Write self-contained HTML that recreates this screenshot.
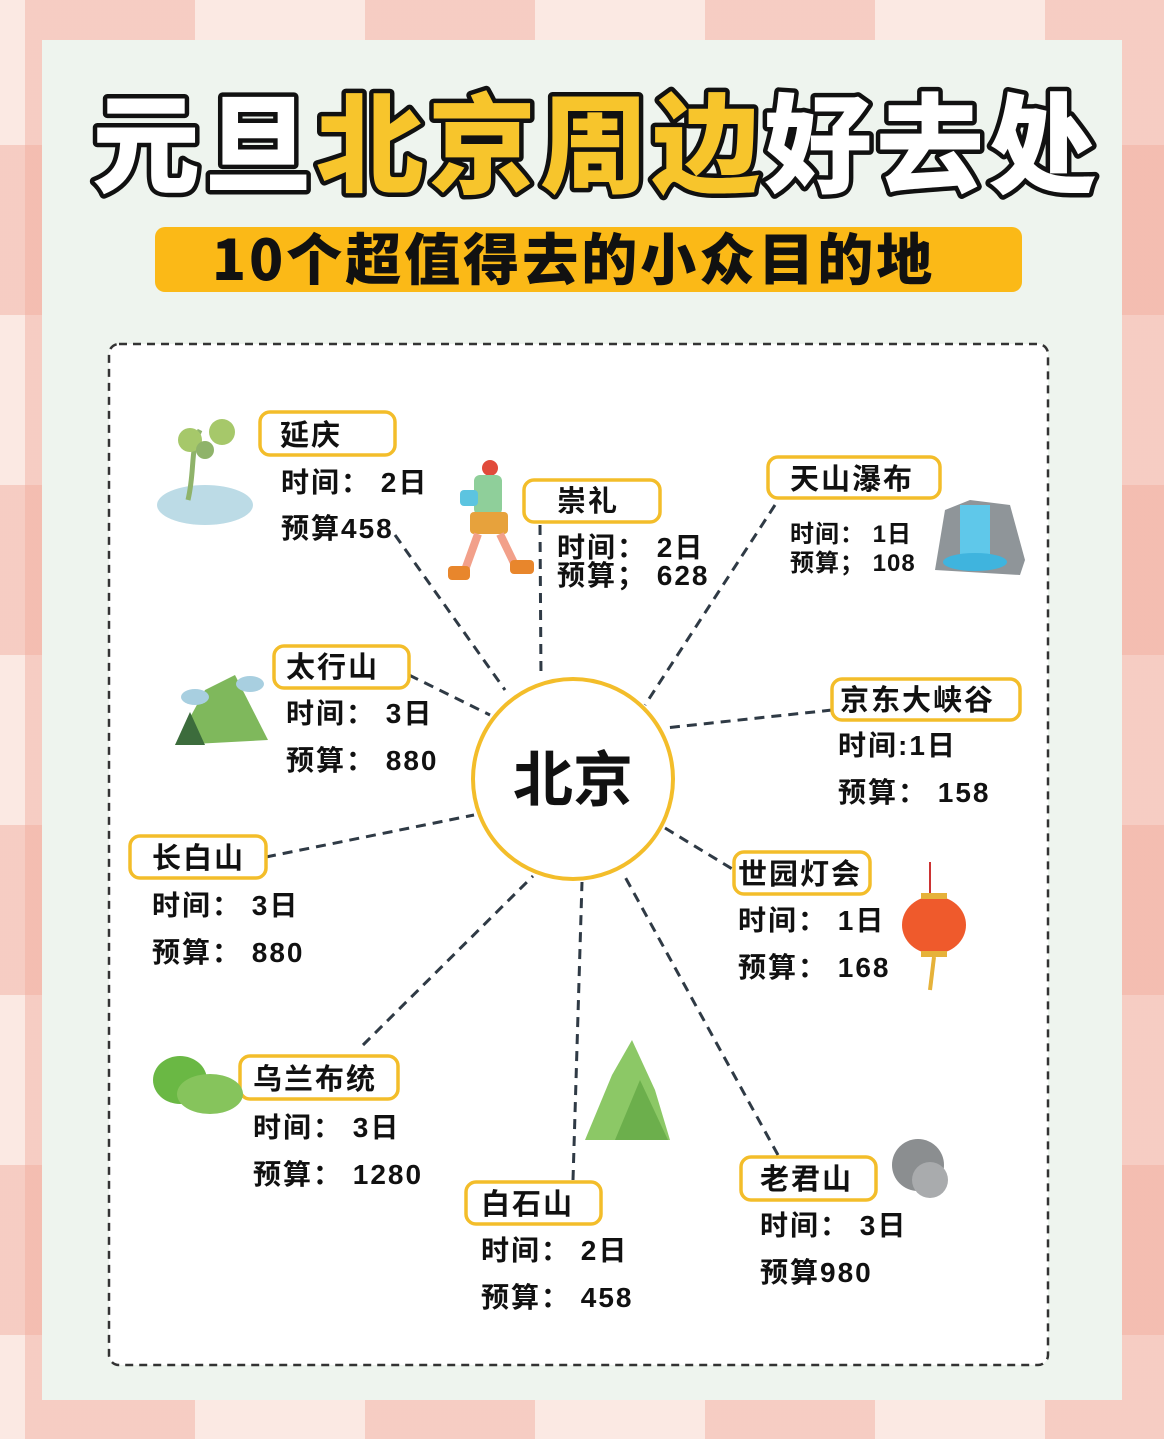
<!DOCTYPE html>
<html><head><meta charset="utf-8"><style>
html,body{margin:0;padding:0}
body{width:1164px;height:1439px;overflow:hidden;position:relative;
background-color:#fbe9e3;
background-image:
linear-gradient(90deg, rgba(240,170,155,.45) 50%, transparent 50%),
linear-gradient(0deg, rgba(240,170,155,.45) 50%, transparent 50%);
background-size:340px 340px,340px 340px;
background-position:25px 0,0 -25px;}
svg{position:absolute;left:0;top:0}
text{font-family:"Liberation Sans","Noto Sans CJK SC",sans-serif;font-weight:bold}
</style></head><body>
<svg width="1164" height="1439" viewBox="0 0 1164 1439">
<rect x="42" y="40" width="1080" height="1360" fill="#eef4ee"/>
<rect x="109" y="344" width="939" height="1021" rx="10" fill="#fff" stroke="#333" stroke-width="2.5" stroke-dasharray="8 6"/>
<!-- title -->
<text x="92" y="184" font-size="108" letter-spacing="4" style="font-family:'Noto Sans CJK SC',sans-serif;font-weight:900;fill:#fff;stroke:#111;stroke-width:9;stroke-linejoin:round;paint-order:stroke">元旦<tspan style="fill:#f7c52c">北京周边</tspan>好去处</text>
<rect x="155" y="227" width="867" height="65" rx="10" fill="#fbb917"/>
<text x="212" y="280" font-size="56" letter-spacing="3" style="font-family:'Noto Sans CJK SC',sans-serif;font-weight:900;fill:#111">10个超值得去的小众目的地</text>
<!-- connectors -->
<g stroke="#2f3a45" stroke-width="3" stroke-dasharray="10 7" fill="none">
<line x1="395" y1="535" x2="505" y2="690"/>
<line x1="540" y1="525" x2="541" y2="678"/>
<line x1="775" y1="505" x2="645" y2="705"/>
<line x1="409" y1="675" x2="490" y2="715"/>
<line x1="832" y1="710" x2="665" y2="728"/>
<line x1="266" y1="857" x2="474" y2="815"/>
<line x1="665" y1="828" x2="734" y2="870"/>
<line x1="363" y1="1045" x2="533" y2="876"/>
<line x1="573" y1="1180" x2="582" y2="882"/>
<line x1="778" y1="1155" x2="624" y2="875"/>
</g>
<circle cx="573" cy="779" r="100" fill="#fff" stroke="#f3bd2a" stroke-width="4"/>
<text x="573" y="801" font-size="60" text-anchor="middle" style="fill:#111">北京</text>
<!-- boxes -->
<g fill="#fff" stroke="#f3bd2a" stroke-width="3.5">
<rect x="260" y="412" width="135" height="43" rx="10"/>
<rect x="524" y="480" width="136" height="42" rx="10"/>
<rect x="768" y="457" width="172" height="41" rx="10"/>
<rect x="274" y="646" width="135" height="42" rx="10"/>
<rect x="832" y="679" width="188" height="41" rx="10"/>
<rect x="130" y="836" width="136" height="42" rx="10"/>
<rect x="734" y="852" width="136" height="42" rx="10"/>
<rect x="240" y="1056" width="158" height="43" rx="10"/>
<rect x="466" y="1182" width="135" height="42" rx="10"/>
<rect x="741" y="1157" width="135" height="43" rx="10"/>
</g>
<g font-size="29" style="fill:#111" letter-spacing="2">
<text x="280" y="445">延庆</text>
<text x="557" y="511">崇礼</text>
<text x="790" y="489">天山瀑布</text>
<text x="286" y="677">太行山</text>
<text x="840" y="710">京东大峡谷</text>
<text x="152" y="868">长白山</text>
<text x="738" y="884">世园灯会</text>
<text x="253" y="1089">乌兰布统</text>
<text x="481" y="1214">白石山</text>
<text x="760" y="1189">老君山</text>
</g>
<g font-size="28" style="fill:#111" letter-spacing="2">
<text x="281" y="492">时间：  2日</text><text x="281" y="538">预算458</text>
<text x="557" y="557">时间：  2日</text><text x="557" y="585">预算；  628</text>
<text x="838" y="755">时间:1日</text><text x="838" y="802">预算：  158</text>
<text x="286" y="723">时间：  3日</text><text x="286" y="770">预算：  880</text>
<text x="152" y="915">时间：  3日</text><text x="152" y="962">预算：  880</text>
<text x="738" y="930">时间：  1日</text><text x="738" y="977">预算：  168</text>
<text x="253" y="1137">时间：  3日</text><text x="253" y="1184">预算：  1280</text>
<text x="481" y="1260">时间：  2日</text><text x="481" y="1307">预算：  458</text>
<text x="760" y="1235">时间：  3日</text><text x="760" y="1282">预算980</text>
</g>
<g font-size="24" style="fill:#111" letter-spacing="1">
<text x="790" y="542">时间：  1日</text><text x="790" y="571">预算；  108</text>
</g>
<!-- illustrations -->
<g>
<ellipse cx="205" cy="505" rx="48" ry="20" fill="#bcdbe6"/>
<path d="M188 500 C195 470 190 450 200 430" stroke="#8fb36a" stroke-width="5" fill="none"/>
<circle cx="190" cy="440" r="12" fill="#a6c86a"/><circle cx="222" cy="432" r="13" fill="#a6c86a"/><circle cx="205" cy="450" r="9" fill="#8fb36a"/>
<circle cx="490" cy="468" r="8" fill="#e14b3b"/>
<rect x="474" y="475" width="28" height="40" rx="6" fill="#8fcf9a"/>
<rect x="460" y="490" width="18" height="16" rx="4" fill="#5cc4e0"/>
<rect x="470" y="512" width="38" height="22" rx="4" fill="#e7a23c"/>
<path d="M478 534 L465 570 M500 534 L515 565" stroke="#f2a08a" stroke-width="8"/>
<rect x="448" y="566" width="22" height="14" rx="4" fill="#e8862c"/><rect x="510" y="560" width="24" height="14" rx="4" fill="#e8862c"/>
<path d="M935 570 L945 510 L970 500 L1010 505 L1025 560 L1020 575 Z" fill="#8f9599"/>
<rect x="960" y="505" width="30" height="50" fill="#5fc8ea"/>
<ellipse cx="975" cy="562" rx="32" ry="9" fill="#3fb4de"/>
<path d="M175 745 L205 690 L235 675 L268 740 Z" fill="#7fb85c"/>
<path d="M175 745 L190 712 L205 745 Z" fill="#3c6c3c"/>
<ellipse cx="195" cy="697" rx="14" ry="8" fill="#a8cfe0"/><ellipse cx="250" cy="684" rx="14" ry="8" fill="#a8cfe0"/>
<ellipse cx="180" cy="1080" rx="27" ry="24" fill="#6ab844"/>
<ellipse cx="210" cy="1094" rx="33" ry="20" fill="#86c45c"/>
<path d="M585 1140 L612 1075 L632 1040 L655 1090 L670 1140 Z" fill="#8cc866"/>
<path d="M615 1140 L640 1080 L668 1140 Z" fill="#6caf4c"/>
<circle cx="918" cy="1165" r="26" fill="#8b8e90"/><circle cx="930" cy="1180" r="18" fill="#a9abad"/>
<line x1="930" y1="862" x2="930" y2="895" stroke="#c33" stroke-width="2"/>
<ellipse cx="934" cy="925" rx="32" ry="29" fill="#ef5a2c"/>
<rect x="921" y="893" width="26" height="6" fill="#e6b23a"/><rect x="921" y="951" width="26" height="6" fill="#e6b23a"/>
<path d="M934 957 L930 990" stroke="#e6b23a" stroke-width="4"/>
</g>
</svg>
</body></html>
